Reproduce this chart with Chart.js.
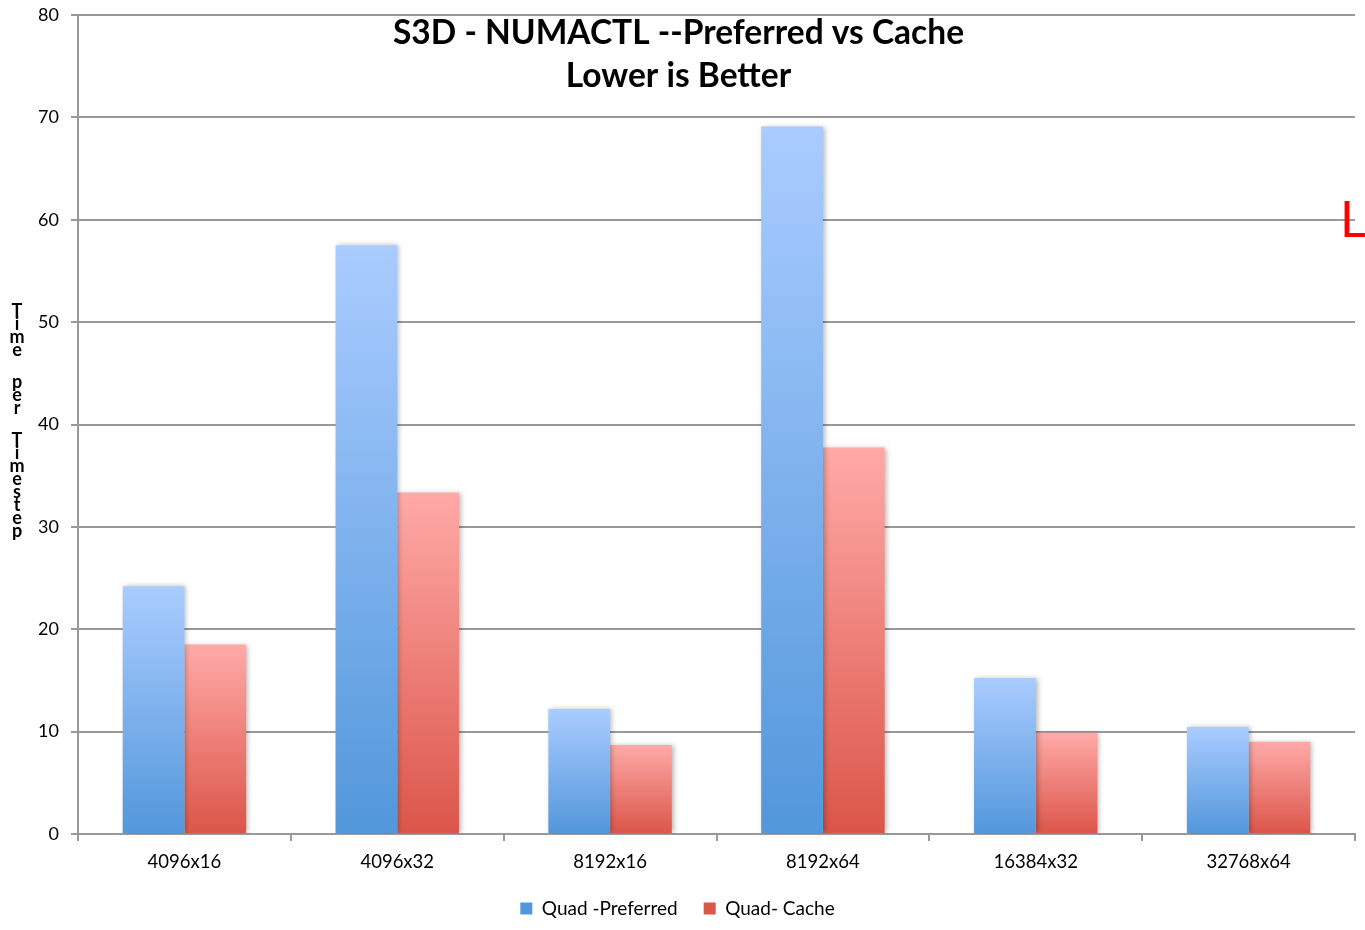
<!DOCTYPE html>
<html>
<head>
<meta charset="utf-8">
<script src="https://cdn.jsdelivr.net/npm/chart.js@4.4.1/dist/chart.umd.min.js"></script>
<style>
  html, body { margin: 0; padding: 0; background: #ffffff; }
  #wrap { width: 1365px; height: 930px; }
</style>
</head>
<body>
<div id="wrap"><canvas id="c" width="1365" height="930"></canvas></div>
<script>
// Problem sizes (grid x ranks)
const categories = ['4096x16', '4096x32', '8192x16', '8192x64', '16384x32', '32768x64'];
// Time per timestep for each memory mode
const preferredTimes = [24.2, 57.5, 12.2, 69.1, 15.25, 10.45];
const cacheTimes = [18.5, 33.35, 8.7, 37.75, 9.9, 9.0];
const seriesNames = ['Quad -Preferred', 'Quad- Cache'];
const yTicks = [0, 10, 20, 30, 40, 50, 60, 70, 80];
const titleLines = ['S3D - NUMACTL --Preferred vs Cache', 'Lower is Better'];
const yAxisTitle = 'Time per Timestep';

const FONT = 'Lato, "Open Sans", sans-serif';

// Vertical gradient per bar, light at the top and darker at the base
function barGradient(top, bottom, fallback) {
  return function (ctx) {
    const chart = ctx.chart;
    if (ctx.type !== 'data' || !chart.chartArea) return fallback;
    const y = chart.scales.y;
    const v = ctx.raw;
    const y0 = y.getPixelForValue(0);
    const y1 = y.getPixelForValue(v);
    if (!isFinite(y0) || !isFinite(y1) || y0 === y1) return fallback;
    const g = chart.ctx.createLinearGradient(0, y1, 0, y0);
    g.addColorStop(0, top);
    g.addColorStop(1, bottom);
    return g;
  };
}

// Soft shadow behind the bars
const barShadow = {
  id: 'barShadow',
  beforeDatasetsDraw(chart) {
    const c = chart.ctx;
    c.save();
    c.shadowColor = 'rgba(0,0,0,0.28)';
    c.shadowBlur = 5;
    c.shadowOffsetX = 2;
    c.shadowOffsetY = 0;
  },
  afterDatasetsDraw(chart) {
    chart.ctx.restore();
  }
};

// Title over the plot area, stacked y-axis caption and red marker
const overlayText = {
  id: 'overlayText',
  afterDraw(chart) {
    const c = chart.ctx;
    const area = chart.chartArea;
    c.save();
    c.fillStyle = '#000000';
    c.textAlign = 'center';
    c.textBaseline = 'middle';
    c.font = 'bold 33.5px ' + FONT;
    const cx = chart.width / 2 - 4;
    c.fillText(titleLines[0], cx, area.top + 18);
    c.fillText(titleLines[1], cx, area.top + 61);

    // caption letters stacked top to bottom
    c.font = 'bold 18px ' + FONT;
    let y = 311;
    for (const ch of yAxisTitle) {
      if (ch === ' ') { y += 19; continue; }
      c.fillText(ch, 17, y);
      y += 13;
    }

    c.fillStyle = '#ff0000';
    c.textAlign = 'left';
    c.textBaseline = 'alphabetic';
    c.font = '50px ' + FONT;
    c.fillText('L', area.right - 15, area.top + 222);
    c.restore();
  }
};

const chart = new Chart(document.getElementById('c'), {
  type: 'bar',
  data: {
    labels: categories,
    datasets: [
      {
        label: seriesNames[0],
        data: preferredTimes,
        backgroundColor: barGradient('#aaccff', '#5297db', '#7fb0ea'),
        borderWidth: 0
      },
      {
        label: seriesNames[1],
        data: cacheTimes,
        backgroundColor: barGradient('#ffaaa7', '#db5549', '#ef8680'),
        borderWidth: 0
      }
    ]
  },
  options: {
    responsive: false,
    animation: false,
    devicePixelRatio: 1,
    layout: { padding: { top: 15, right: 10, left: 0, bottom: 2 } },
    datasets: {
      bar: { categoryPercentage: 0.58, barPercentage: 1.0 }
    },
    scales: {
      x: {
        grid: {
          display: true,
          offset: true,
          drawOnChartArea: false,
          drawTicks: true,
          tickLength: 7,
          color: '#999999',
          lineWidth: 2
        },
        border: { display: true, color: '#999999', width: 2 },
        ticks: {
          color: '#000000',
          font: { family: FONT, size: 18.5 },
          padding: 10,
          maxRotation: 0
        },
        afterFit(scale) { scale.height = 39; }
      },
      y: {
        min: 0,
        max: 80,
        afterBuildTicks(scale) { scale.ticks = yTicks.map(v => ({ value: v })); },
        grid: {
          color: '#999999',
          lineWidth: 2,
          drawTicks: true,
          tickLength: 7
        },
        border: { display: true, color: '#999999', width: 2 },
        ticks: {
          color: '#000000',
          font: { family: FONT, size: 18 },
          padding: 12
        },
        afterFit(scale) {
          scale.width = 78;
          scale.paddingTop = 0;
          scale.paddingBottom = 0;
        }
      }
    },
    plugins: {
      title: { display: false },
      tooltip: { enabled: false },
      legend: {
        display: true,
        position: 'bottom',
        labels: {
          boxWidth: 12,
          boxHeight: 12,
          padding: 26,
          color: '#000000',
          font: { family: FONT, size: 19 }
        }
      }
    }
  },
  plugins: [barShadow, overlayText]
});
</script>
</body>
</html>
